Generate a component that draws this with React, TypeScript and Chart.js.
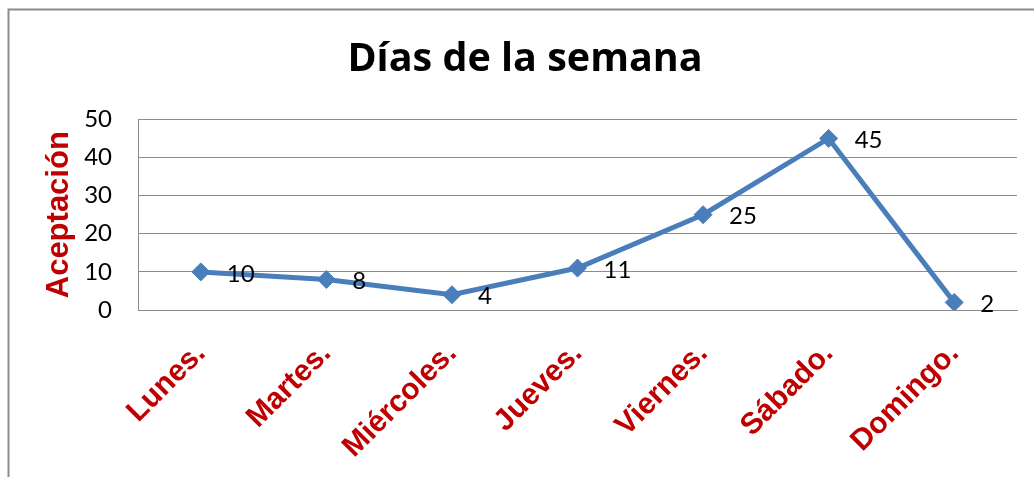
import { useEffect, useRef } from "react";
import { Chart, registerables } from "chart.js";

Chart.register(...registerables);

const categories = ["Lunes.", "Martes.", "Miércoles.", "Jueves.", "Viernes.", "Sábado.", "Domingo."];
const aceptacion = [10, 8, 4, 11, 25, 45, 2];
const yMin = 0;
const yMax = 50;
const yStep = 10;

const framePlugin = {
  id: "frame",
  beforeDraw(chart: any) {
    const ctx = chart.ctx;
    ctx.save();
    ctx.fillStyle = "#ffffff";
    ctx.fillRect(0, 0, chart.width, chart.height);
    ctx.strokeStyle = "#8c8c8c";
    ctx.lineWidth = 2;
    ctx.strokeRect(8.5, 9.5, 3000, 3000);
    ctx.restore();
  },
};

const labelPlugin = {
  id: "pointLabels",
  afterDatasetsDraw(chart: any) {
    const ctx = chart.ctx;
    const meta = chart.getDatasetMeta(0);
    ctx.save();
    ctx.fillStyle = "#000000";
    ctx.font = "24px Lato";
    ctx.textAlign = "left";
    ctx.textBaseline = "middle";
    meta.data.forEach((pt: any, i: number) => {
      ctx.fillText(String(aceptacion[i]), pt.x + 26, pt.y + 2);
    });
    ctx.restore();
  },
};

export default function App() {
  const ref = useRef<HTMLCanvasElement | null>(null);

  useEffect(() => {
    if (!ref.current) return;
    const chart = new Chart(ref.current, {
      type: "line",
      data: {
        labels: categories,
        datasets: [
          {
            label: "Aceptación",
            data: aceptacion,
            borderColor: "#4A7EBB",
            backgroundColor: "#4A7EBB",
            borderWidth: 5,
            pointStyle: "rectRot",
            pointRadius: 9,
            pointBorderWidth: 1,
            pointBackgroundColor: "#4A7EBB",
            pointBorderColor: "#4A7EBB",
            tension: 0,
          },
        ],
      },
      options: {
        animation: false,
        responsive: false,
        layout: { padding: { left: 33, right: 17, top: 0, bottom: 0 } },
        plugins: {
          legend: { display: false },
          tooltip: { enabled: false },
          title: {
            display: true,
            text: "Días de la semana",
            color: "#000000",
            font: { family: "Open Sans", size: 39.5, weight: "bold" },
            padding: { top: 36, bottom: 36 },
          },
        },
        scales: {
          x: {
            type: "category",
            offset: true,
            grid: { display: false },
            border: { display: true, color: "#8c8c8c", width: 1 },
            ticks: {
              color: "#C00000",
              font: { family: "Liberation Sans", size: 30, weight: "bold" },
              minRotation: 45,
              maxRotation: 45,
              autoSkip: false,
              padding: 18,
            },
            afterFit: (s: any) => {
              s.height = 167;
            },
          },
          y: {
            min: yMin,
            max: yMax,
            ticks: {
              stepSize: yStep,
              color: "#000000",
              font: { family: "Lato", size: 24 },
              padding: 26,
            },
            grid: { color: "#8c8c8c", lineWidth: 1, drawTicks: false },
            border: { display: true, color: "#8c8c8c", width: 1 },
            title: {
              display: true,
              text: "Aceptación",
              color: "#C00000",
              font: { family: "Liberation Sans", size: 31, weight: "bold" },
              padding: { top: 8, bottom: 0 },
            },
            afterFit: (s: any) => {
              s.width = 105;
            },
          },
        },
      },
      plugins: [framePlugin, labelPlugin],
    });
    return () => chart.destroy();
  }, []);

  return (
    <div style={{ position: "absolute", left: 0, top: 0, width: 1034, height: 477 }}>
      <canvas ref={ref} width={1034} height={477} style={{ display: "block", width: 1034, height: 477 }} />
    </div>
  );
}
